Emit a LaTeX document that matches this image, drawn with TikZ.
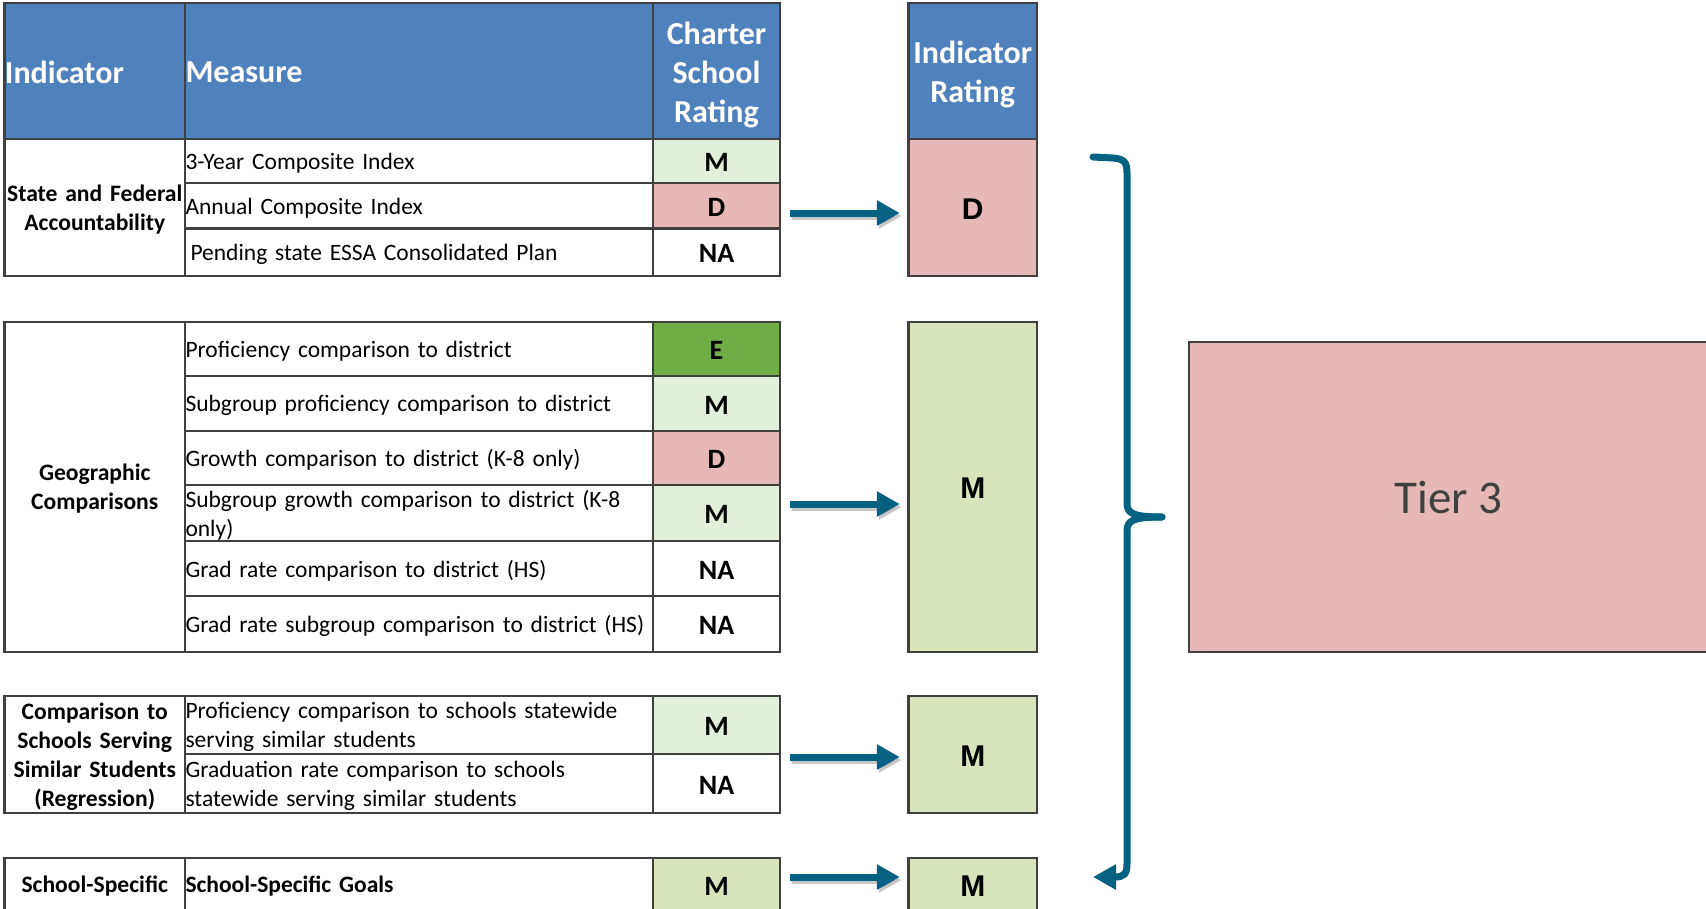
\documentclass[tikz,border=0pt]{standalone}
\usepackage{fontspec}
\setmainfont{Carlito}
\newfontfamily\arialfont{Liberation Sans}
\usetikzlibrary{arrows.meta}

\definecolor{hdrblue}{HTML}{4F81BD}
\definecolor{gridgray}{HTML}{404040}
\definecolor{palegreen}{HTML}{E2EFDA}
\definecolor{sagegreen}{HTML}{D8E4BC}
\definecolor{rosepink}{HTML}{E6B8B7}
\definecolor{leafgreen}{HTML}{70AD47}
\definecolor{flowteal}{RGB}{4,97,130}
\definecolor{tiertext}{HTML}{404040}

% vertical nudge of a cell's text
\def\tdy{0pt}
\tikzset{tdy/.store in=\tdy}

% one table cell: name, x1, y1, x2, y2, style, text
\newcommand\tcell[7]{%
  \pgfmathsetmacro\cw{#4-#2}%
  \pgfmathsetmacro\ch{#5-#3}%
  \pgfmathsetmacro\tw{#4-#2-1}%
  \pgfmathsetmacro\twide{#4-#2+16}%
  \node[cellbase,#6,text width=,minimum width=\cw pt,minimum height=\ch pt,inner sep=0pt]
    (#1) at ({(#2+#4)/2},{(#3+#5)/2}) {};
  \node[cellbase,text width=\tw pt,#6,draw=none,fill=none,yshift=-\tdy]
    (#1t) at (#1.center) {#7};}

\begin{document}
\begin{tikzpicture}[x=1pt,y=-1pt,
  cellbase/.style={draw=gridgray,line width=2.5pt,inner xsep=0.5pt,inner ysep=0pt,
    align=center,fill=white,tdy=1.5pt},
  hdr/.style={fill=hdrblue,text=white,font=\fontsize{32}{39}\selectfont\bfseries,
    text width=\twide pt,tdy=3.5pt},
  hdrl/.style={hdr,align=left,text width=\tw pt,tdy=1pt},
  lab/.style={font=\fontsize{23.6}{29}\selectfont\bfseries,text width=\twide pt,tdy=2pt},
  meas/.style={align=left,font=\fontsize{23.5}{29}\selectfont,tdy=2pt},
  measb/.style={meas,font=\fontsize{23.5}{29}\selectfont\bfseries},
  rate/.style={font=\fontsize{28}{32}\selectfont\bfseries},
  irate/.style={font=\arialfont\fontsize{30}{34}\selectfont\bfseries},
  flow/.style={draw=flowteal,line width=7pt,shorten <=9pt,shorten >=7.5pt,
    -{Triangle[length=23pt,width=24pt]}},
  flowshade/.style={flow,draw=black,opacity=0.22,transform canvas={shift={(2pt,-3pt)}}},
  bracestroke/.style={draw=flowteal,line width=7pt,line cap=round},
  tierbox/.style={draw=gridgray,line width=2.5pt,fill=rosepink,text=tiertext,
    font=\fontsize{47}{56}\selectfont,inner sep=0pt}
]
\useasboundingbox (0,0) rectangle (1706,908);
\clip (0,0) rectangle (1706,908);

% ---------- header row ----------
\tcell{hInd}{4.5}{3}{185}{139}{hdrl}{Indicator}
\tcell{hMeas}{185}{3}{653}{139}{hdrl}{Measure}
\tcell{hRate}{653}{3}{780}{139}{hdr}{Charter\\School\\Rating}
\tcell{hIR}{908.5}{3}{1037}{139}{hdr}{Indicator\\Rating}

% ---------- state and federal accountability ----------
\tcell{g1}{4.5}{139}{185}{276}{lab}{State and Federal\\Accountability}
\tcell{m11}{185}{139}{653}{183}{meas}{3-Year Composite Index}
\tcell{m12}{185}{183}{653}{228.5}{meas}{Annual Composite Index}
\tcell{m13}{185}{228.5}{653}{276}{meas}{\hspace*{5pt}Pending state ESSA Consolidated Plan}
\tcell{r11}{653}{139}{780}{183}{rate,fill=palegreen}{M}
\tcell{r12}{653}{183}{780}{228.5}{rate,fill=rosepink}{D}
\tcell{r13}{653}{228.5}{780}{276}{rate}{NA}
\tcell{ir1}{908.5}{139}{1037}{276}{irate,fill=rosepink}{D}

% ---------- geographic comparisons ----------
\tcell{g2}{4.5}{322}{185}{652}{lab}{Geographic\\Comparisons}
\tcell{m21}{185}{322}{653}{376}{meas}{Proficiency comparison to district}
\tcell{m22}{185}{376}{653}{431}{meas}{Subgroup proficiency comparison to district}
\tcell{m23}{185}{431}{653}{485}{meas}{Growth comparison to district (K-8 only)}
\tcell{m24}{185}{485}{653}{541}{meas}{Subgroup growth comparison to district (K-8\\only)}
\tcell{m25}{185}{541}{653}{596}{meas}{Grad rate comparison to district (HS)}
\tcell{m26}{185}{596}{653}{652}{meas}{\mbox{Grad rate subgroup comparison to district (HS)}}
\tcell{r21}{653}{322}{780}{376}{rate,fill=leafgreen}{E}
\tcell{r22}{653}{376}{780}{431}{rate,fill=palegreen}{M}
\tcell{r23}{653}{431}{780}{485}{rate,fill=rosepink}{D}
\tcell{r24}{653}{485}{780}{541}{rate,fill=palegreen}{M}
\tcell{r25}{653}{541}{780}{596}{rate}{NA}
\tcell{r26}{653}{596}{780}{652}{rate}{NA}
\tcell{ir2}{908.5}{322}{1037}{652}{irate,fill=sagegreen}{M}

% ---------- comparison to similar schools ----------
\tcell{g3}{4.5}{696}{185}{813}{lab}{Comparison to\\Schools Serving\\Similar Students\\(Regression)}
\tcell{m31}{185}{696}{653}{754}{meas}{Proficiency comparison to schools statewide\\serving similar students}
\tcell{m32}{185}{754}{653}{813}{meas}{Graduation rate comparison to schools\\statewide serving similar students}
\tcell{r31}{653}{696}{780}{754}{rate,fill=palegreen}{M}
\tcell{r32}{653}{754}{780}{813}{rate}{NA}
\tcell{ir3}{908.5}{696}{1037}{813}{irate,fill=sagegreen}{M}

% ---------- school-specific goals ----------
\tcell{g4}{4.5}{858}{185}{911}{lab}{School-Specific}
\tcell{m41}{185}{858}{653}{911}{measb}{School-Specific Goals}
\tcell{r41}{653}{858}{780}{911}{rate,fill=sagegreen}{M}
\tcell{ir4}{908.5}{858}{1037}{911}{irate,fill=sagegreen}{M}

% ---------- overall tier ----------
\node[tierbox,minimum width=519pt,minimum height=310pt] (tier) at (1448.5,497) {Tier 3};

% ---------- arrows into the indicator ratings ----------
\foreach \src/\dst/\yy in {r12/ir1/213, r24/ir2/504, r32/ir3/757, r41/ir4/877}{
  \draw[flowshade] (\src.east |- 0,\yy) -- (\dst.west |- 0,\yy);
  \draw[flow] (\src.east |- 0,\yy) -- (\dst.west |- 0,\yy);
}

% ---------- brace gathering the ratings ----------
\coordinate (bTop) at (1093,157);
\coordinate (bTip) at (1162,517);
\coordinate (bEnd) at (1093,877);
\draw[bracestroke] (bTop) -- (1113,158) .. controls (1124,159) and (1127,162) .. (1127,173)
  -- (1127,503) .. controls (1127,513) and (1132,517) .. (bTip);
\draw[bracestroke,-{Triangle[length=23pt,width=24pt]}] (bTip) .. controls (1132,517) and (1127,521) .. (1127,531)
  -- (1127,864) .. controls (1127,874) and (1124,877) .. (bEnd);
\end{tikzpicture}
\end{document}
